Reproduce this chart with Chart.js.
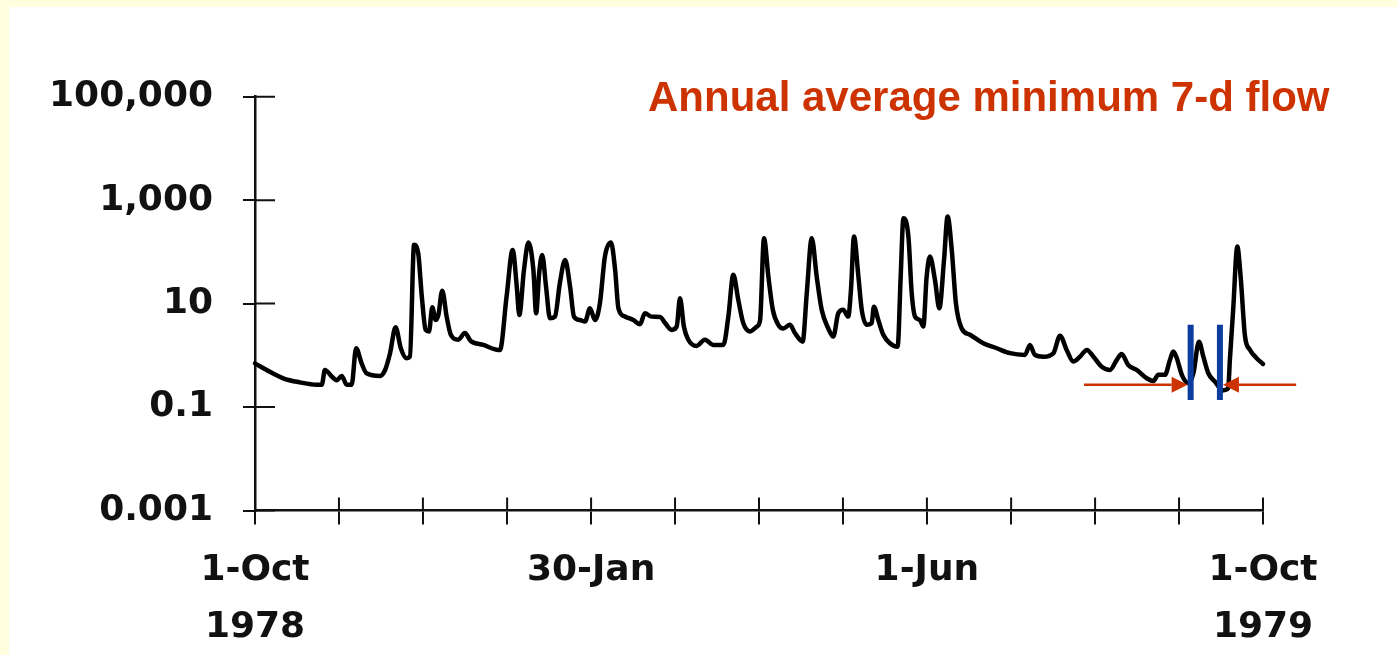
<!DOCTYPE html>
<html lang="en">
<head>
<meta charset="UTF-8">
<title>Annual average minimum 7-d flow</title>
<script src="https://cdn.jsdelivr.net/npm/chart.js"></script>
<style>
    html, body { margin: 0; padding: 0; }
    body {
        width: 1398px;
        height: 655px;
        background: #ffffe0;
        position: relative;
        overflow: hidden;
    }
    /* white scanned page inside the pale yellow slide */
    #paper { position: absolute; left: 9px; top: 7px; right: 0; bottom: 0; background: #fff; }
    #chart { position: absolute; left: 0; top: 0; }
    #note {
        position: absolute;
        left: 648px;
        top: 73px;
        font: bold 42px 'Liberation Sans', Arial, sans-serif;
        color: #cc3300;
        white-space: nowrap;
    }
</style>
</head>
<body>
<div id="paper"></div>
<canvas id="chart" width="1398" height="655"></canvas>
<div id="note">Annual average minimum 7-d flow</div>

<script>
// days after 1 Oct 1978
var days = [0, 5.4, 10.2, 16.3, 22.3, 24.2, 25.3, 27.8, 29.6, 31.4, 33.2, 35.0, 36.6, 38.6, 40.4,
    45.3, 47.1, 48.9, 50.9, 52.8, 54.9, 56.1, 57.6, 59.1, 60.4, 61.8, 63.0, 64.2, 65.4, 66.4,
    67.8, 69.4, 70.9, 73.6, 76.0, 78.1, 82.7, 88.1, 88.7, 91.1, 93.3, 94.8, 95.7, 97.4, 99.0,
    100.8, 101.8, 102.9, 104.0, 105.4, 106.8, 108.6, 110.4, 112.3, 114.1, 115.5, 117.7, 119.5, 121.3, 123.1,
    124.9, 126.7, 128.9, 130.4, 131.6, 134.0, 137.0, 139.4, 141.2, 143.6, 146.7, 148.5, 150.9, 152.7, 153.9,
    155.3, 156.9, 159.9, 162.9, 166.0, 169.6, 171.4, 173.2, 175.0, 176.8, 179.2, 181.7, 182.9, 184.3, 185.9,
    187.5, 189.5, 191.3, 193.7, 195.5, 198.3, 199.8, 201.6, 203.4, 205.2, 207.6, 209.4, 211.2, 213.0, 214.8,
    215.8, 216.9, 218.5, 219.7, 221.5, 223.3, 224.1, 225.7, 227.5, 229.9, 232.7, 233.8, 234.8, 236.6, 237.8,
    239.0, 240.8, 242.0, 243.2, 244.4, 246.2, 247.8, 249.5, 250.8, 252.3, 253.8, 255.9, 258.9, 263.7, 268.6,
    273.4, 278.8, 280.6, 282.4, 285.5, 289.1, 291.5, 293.9, 296.3, 298.7, 301.2, 303.6, 306.6, 309.6, 312.0,
    313.8, 316.2, 319.3, 322.9, 325.3, 327.1, 329.5, 331.3, 332.5, 333.8, 335.6, 338.0, 339.8, 341.8, 343.4,
    345.2, 347.6, 350.4, 352.4, 353.0, 354.2, 355.7, 356.9, 358.5, 360.3, 362.7, 365];

// daily flow (log axis)
var flow = [0.70, 0.48, 0.36, 0.30, 0.27, 0.27, 0.52, 0.39, 0.33, 0.40, 0.27, 0.27, 1.37, 0.70, 0.45,
    0.40, 0.52, 1.10, 3.5, 1.37, 0.88, 0.94, 137, 94, 13.7, 3.1, 2.9, 8.5, 4.8, 6.0,
    17.8, 5.6, 2.5, 2.0, 2.7, 1.9, 1.59, 1.27, 1.27, 13.7, 109, 21, 6.0, 45, 151,
    45, 6.5, 39, 87, 21, 5.2, 5.6, 25, 70, 21, 5.6, 4.8, 4.5, 8.1, 4.8,
    10.2, 81, 151, 45, 8.1, 5.6, 4.8, 4.0, 6.5, 5.6, 5.5, 4.2, 3.1, 3.6, 12.7,
    3.6, 2.0, 1.52, 2.0, 1.59, 1.59, 5.6, 36, 11.8, 4.2, 2.9, 3.6, 4.8, 184, 33,
    7.6, 3.9, 3.3, 3.9, 2.7, 1.84, 15.9, 184, 33, 7.6, 3.3, 2.3, 6.5, 7.6, 5.6,
    18.4, 198, 33, 7.6, 3.9, 4.2, 8.7, 4.8, 2.5, 1.71, 1.47, 33, 449, 198, 15.9,
    5.6, 4.8, 3.6, 33, 81, 29, 8.1, 70, 482, 109, 10.2, 3.3, 2.5, 1.71, 1.37,
    1.10, 1.02, 1.59, 1.02, 0.94, 1.10, 2.4, 1.27, 0.76, 0.94, 1.27, 0.94, 0.60, 0.52, 0.81,
    1.06, 0.65, 0.52, 0.36, 0.32, 0.42, 0.42, 0.81, 1.18, 0.88, 0.42, 0.29, 0.45, 1.84, 0.94,
    0.45, 0.31, 0.21, 0.23, 0.81, 7.6, 127, 33, 2.3, 1.27, 0.88, 0.68];

// monthly tick marks and their labels
var monthTicks = [0, 30.4, 60.8, 91.3, 121.7, 152.1, 182.5, 212.9, 243.3, 273.8, 304.2, 334.6, 365];
var monthLabels = [['1-Oct', '1978'], '', '', '', '30-Jan', '', '', '', '1-Jun', '', '', '', ['1-Oct', '1979']];

var flowTicks = [0.001, 0.1, 10, 1000, 100000];
var flowLabels = ['0.001', '0.1', '10', '1,000', '100,000'];

// 7-day minimum window and the arrows pointing at it
var windowDays = [338.8, 349.4];
var windowFlow = [0.137, 3.9];
var arrowFlow = 0.27;
var arrowTails = [300.2, 377];

var ink = '#111';
var labelFont = { family: 'DejaVu Sans', size: 36, weight: 'bold', lineHeight: 1.58 };

// ticks in the scan cross the axis line, Chart.js only draws the outer half
var overlay = {
    id: 'overlay',
    afterDatasetsDraw: function(chart) {
        var ctx = chart.ctx;
        var x = chart.scales.x, y = chart.scales.y, a = chart.chartArea;
        ctx.save();

        ctx.strokeStyle = ink;
        ctx.lineWidth = 2;
        ctx.beginPath();
        flowTicks.forEach(function(v) {
            var py = y.getPixelForValue(v);
            ctx.moveTo(a.left, py);
            ctx.lineTo(a.left + 20, py);
        });
        monthTicks.forEach(function(v) {
            var px = x.getPixelForValue(v);
            ctx.moveTo(px, a.bottom);
            ctx.lineTo(px, a.bottom - 13);
        });
        ctx.stroke();

        var yA = y.getPixelForValue(arrowFlow);
        var left = x.getPixelForValue(windowDays[0]);
        var right = x.getPixelForValue(windowDays[1]);

        // red arrows
        ctx.strokeStyle = '#cc3300';
        ctx.fillStyle = '#cc3300';
        ctx.lineWidth = 2.5;
        drawArrow(ctx, x.getPixelForValue(arrowTails[0]), left - 3, yA);
        drawArrow(ctx, x.getPixelForValue(arrowTails[1]), right + 3, yA);

        // blue window lines
        ctx.strokeStyle = '#0b3c9e';
        ctx.lineWidth = 6;
        ctx.beginPath();
        [left, right].forEach(function(px) {
            ctx.moveTo(px, y.getPixelForValue(windowFlow[1]));
            ctx.lineTo(px, y.getPixelForValue(windowFlow[0]));
        });
        ctx.stroke();

        ctx.restore();
    }
};

function drawArrow(ctx, fromX, toX, py) {
    var dir = toX > fromX ? 1 : -1;
    var head = 16;
    ctx.beginPath();
    ctx.moveTo(fromX, py);
    ctx.lineTo(toX - dir * head, py);
    ctx.stroke();
    ctx.beginPath();
    ctx.moveTo(toX, py);
    ctx.lineTo(toX - dir * head, py - 8);
    ctx.lineTo(toX - dir * head, py + 8);
    ctx.closePath();
    ctx.fill();
}

var points = days.map(function(d, i) { return { x: d, y: flow[i] }; });

new Chart(document.getElementById('chart'), {
    type: 'line',
    data: {
        datasets: [{
            data: points,
            borderColor: '#000',
            borderWidth: 4.5,
            borderJoinStyle: 'round',
            borderCapStyle: 'round',
            cubicInterpolationMode: 'monotone',
            pointRadius: 0,
            fill: false,
            clip: 4
        }]
    },
    options: {
        responsive: false,
        animation: false,
        layout: { padding: { left: 0, top: 96.7, right: 135, bottom: 0 } },
        plugins: { legend: { display: false }, tooltip: { enabled: false } },
        scales: {
            x: {
                type: 'linear',
                min: 0,
                max: 365,
                afterBuildTicks: function(s) { s.ticks = monthTicks.map(function(v) { return { value: v }; }); },
                afterFit: function(s) { s.height = 144.5; },
                ticks: {
                    autoSkip: false,
                    maxRotation: 0,
                    padding: 18,
                    color: ink,
                    font: labelFont,
                    callback: function(v, i) { return monthLabels[i]; }
                },
                grid: { display: true, drawOnChartArea: false, drawTicks: true, tickLength: 14, color: ink, lineWidth: 2 },
                border: { display: true, color: ink, width: 2.5 }
            },
            y: {
                type: 'logarithmic',
                min: 0.001,
                max: 100000,
                afterBuildTicks: function(s) { s.ticks = flowTicks.map(function(v) { return { value: v }; }); },
                afterFit: function(s) { s.width = 255; },
                ticks: {
                    padding: 30,
                    color: ink,
                    font: labelFont,
                    callback: function(v, i) { return flowLabels[i]; }
                },
                grid: { display: true, drawOnChartArea: false, drawTicks: true, tickLength: 12, color: ink, lineWidth: 2 },
                border: { display: true, color: ink, width: 2.5 }
            }
        }
    },
    plugins: [overlay]
});
</script>
</body>
</html>
